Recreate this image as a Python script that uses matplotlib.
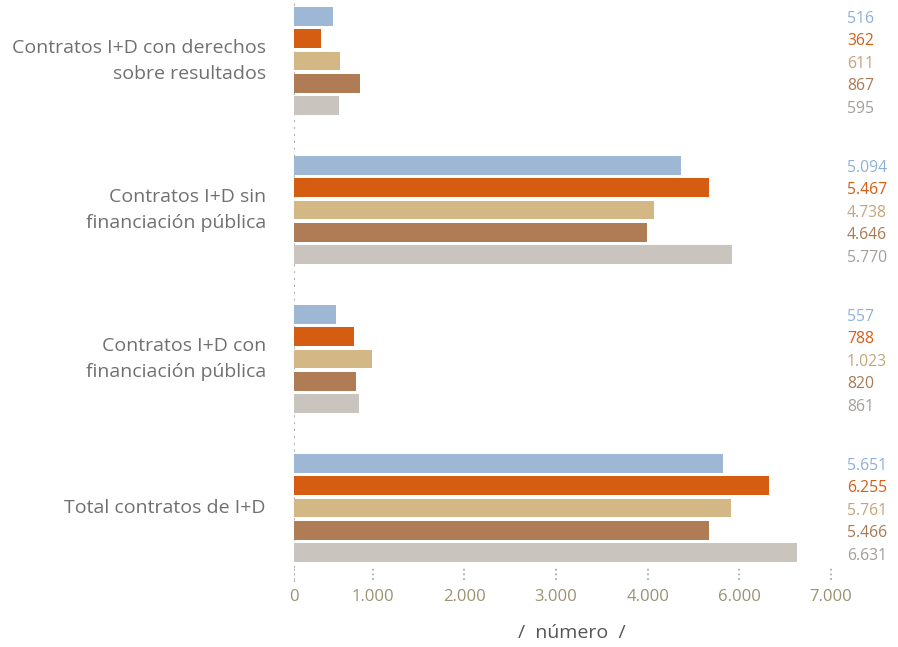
import matplotlib
matplotlib.use("Agg")
import matplotlib.pyplot as plt
import matplotlib.transforms as mtransforms

plt.rcParams['font.family'] = ['Open Sans', 'DejaVu Sans']

# categorias (de arriba abajo) y valores de las cinco series
categorias = ["Contratos I+D con derechos\nsobre resultados",
              "Contratos I+D sin\nfinanciación pública",
              "Contratos I+D con\nfinanciación pública",
              "Total contratos de I+D"]
serie_1 = [516, 5094, 557, 5651]
serie_2 = [362, 5467, 788, 6255]
serie_3 = [611, 4738, 1023, 5761]
serie_4 = [867, 4646, 820, 5466]
serie_5 = [595, 5770, 861, 6631]
series = [serie_1, serie_2, serie_3, serie_4, serie_5]

# eje x tal como aparece en el original (etiquetas y posiciones)
tick_labels = ["0", "1.000", "2.000", "3.000", "4.000", "6.000", "7.000"]
tick_pos = [0, 1041, 2240, 3452, 4664, 5863, 7075]

colores_barra = ["#9db7d5", "#d45d12", "#d3b886", "#b07c56", "#c9c5be"]
colores_texto = ["#8fb0d8", "#d65d14", "#c4a57a", "#a97a55", "#a39e98"]

def fmt(v):
    return f"{v:,}".replace(",", ".")

W, H = 898, 647
fig = plt.figure(figsize=(W / 100, H / 100), dpi=100)
ax = fig.add_axes([294 / W, (H - 582) / H, (847 - 294) / W, 582 / H])

paso = 0.151
alto = 0.1275
for j, (vals, c, ct) in enumerate(zip(series, colores_barra, colores_texto)):
    ys = [i + (j - 2) * paso for i in range(len(categorias))]
    ax.barh(ys, vals, height=alto, color=c, zorder=3)
    for y, v in zip(ys, vals):
        ax.annotate(fmt(v), xy=(1.0, y), xycoords=('axes fraction', 'data'),
                    xytext=(0, -2), textcoords='offset points',
                    ha='left', va='center', fontsize=11.3, color=ct)

for i, cat in enumerate(categorias):
    ax.annotate(cat, xy=(0, i), xycoords=('axes fraction', 'data'),
                xytext=(-28 * 0.72, 0), textcoords='offset points',
                ha='right', va='center', fontsize=14, color="#707070",
                linespacing=1.6)

ax.set_xlim(0, 7286)
ax.set_ylim((582 - 61) / 149, -61 / 149)

# linea punteada vertical en el cero
ax.axvline(0, color="#a8a8a8", lw=1.3, ls=(0, (1.2, 2.6)), zorder=1)
# marcas punteadas de las divisiones
trans = mtransforms.blended_transform_factory(ax.transData, ax.transAxes)
ax.vlines(tick_pos, 0.003, 0.026, transform=trans, color="#aaaaaa",
          lw=1.3, ls=(0, (1.0, 1.6)), zorder=1)

ax.set_xticks(tick_pos, tick_labels)
ax.tick_params(axis='x', length=0, pad=5, labelsize=12, labelcolor="#9a9272")
ax.set_yticks([])
for s in ax.spines.values():
    s.set_visible(False)

fig.text(572 / W, 1 - 633 / H, "/  número  /", ha='center', va='center',
         fontsize=14, color="#555555")

fig.savefig("out.png", dpi=100)
